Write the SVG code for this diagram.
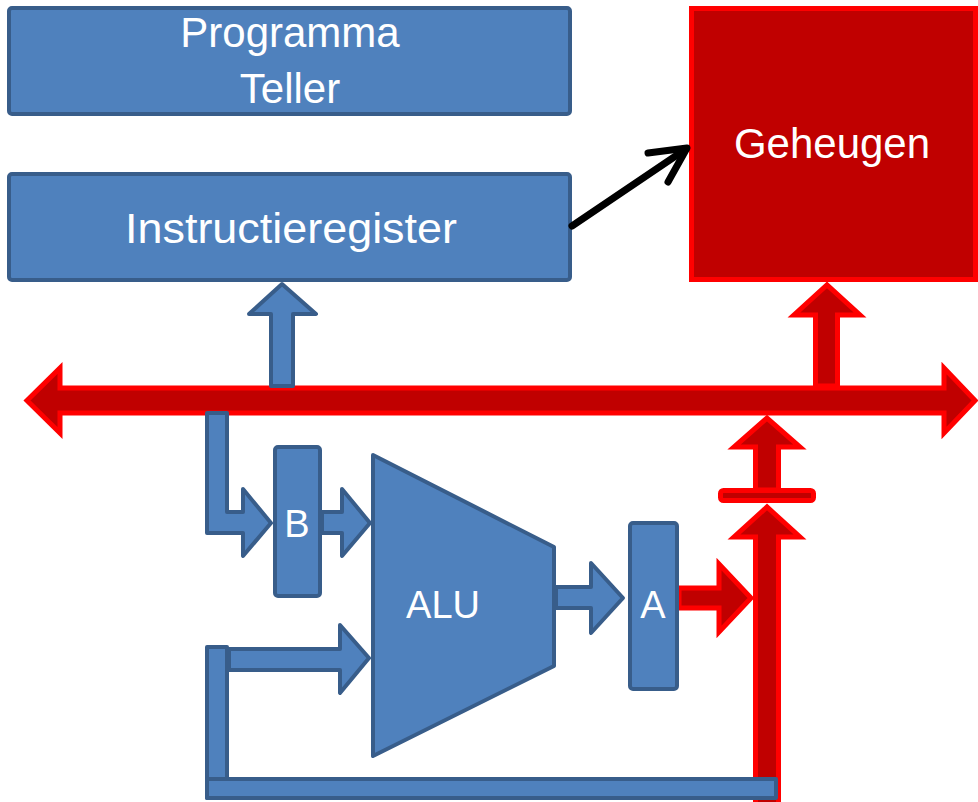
<svg xmlns="http://www.w3.org/2000/svg" width="978" height="802" viewBox="0 0 978 802">
<style>
.blue{fill:#4F81BD;stroke:#385D8A;stroke-width:4;stroke-linejoin:round}
.red{fill:#C00000;stroke:#FF0000;stroke-width:5;stroke-linejoin:miter}
.lbl{font-family:"Liberation Sans",Arial,sans-serif;fill:#FFFFFF;text-anchor:middle}
</style>
<rect width="978" height="802" fill="#FFFFFF"/>
<g id="programma-teller">
<rect class="blue" x="9" y="8" width="561" height="106" rx="3"/>
<text class="lbl" x="290" y="47" font-size="42">Programma</text>
<text class="lbl" x="290" y="103" font-size="42">Teller</text>
</g>
<g id="instructieregister">
<rect class="blue" x="9" y="174" width="561" height="106" rx="3"/>
<text class="lbl" x="291" y="243" font-size="42" textLength="332" lengthAdjust="spacingAndGlyphs">Instructieregister</text>
</g>
<g id="geheugen">
<rect class="red" x="691.5" y="8.5" width="284" height="271"/>
<text class="lbl" x="832" y="158" font-size="42">Geheugen</text>
</g>
<g id="connectors">
<path class="red" d="M27,400.5 L60,368 L60,388 L944,388 L944,368 L975,400.5 L944,433 L944,413 L60,413 L60,433 Z"/>
<path class="blue" d="M271,386 L271,314 L249,314 L282,284 L316,314 L293,314 L293,386 Z"/>
<path class="red" d="M815.5,386 L815.5,315 L794,315 L827,285 L860,315 L837.5,315 L837.5,386 Z"/>
<path class="red" d="M755.5,490 L755.5,447 L734,447 L767,418 L800,447 L778.5,447 L778.5,490 Z"/>
<rect class="red" x="720.5" y="490.5" width="93" height="10" rx="3"/>
<path class="red" d="M755.5,810 L755.5,537 L734,537 L767,507 L800,537 L778.5,537 L778.5,810 Z"/>
<path class="blue" d="M207,413 L227,413 L227,512 L243,512 L243,489 L271,523 L243,556 L243,533 L207,533 Z"/>
<path class="blue" d="M322,512 L342,512 L342,489 L370,523 L342,556 L342,533 L322,533 Z"/>
<path class="blue" d="M229,649 L340,649 L340,625 L369,658 L340,693 L340,670 L229,670 Z"/>
<rect class="blue" x="207" y="647" width="20" height="151"/>
<rect class="blue" x="207" y="779" width="569" height="19"/>
<path class="blue" d="M556,587 L591,587 L591,563 L623,598 L591,633 L591,608 L556,608 Z"/>
<path class="red" d="M679,588 L719,588 L719,564 L751,598 L719,632 L719,608 L679,608 Z"/>
<g fill="none" stroke="#000000" stroke-width="7" stroke-linecap="round" stroke-linejoin="round">
<line x1="572" y1="226" x2="686" y2="149"/>
<polyline points="648,153 687,148 668,182"/>
</g>
</g>
<g id="b">
<rect class="blue" x="275" y="447" width="45" height="149" rx="3"/>
<text class="lbl" x="297" y="537" font-size="38">B</text>
</g>
<g id="alu">
<path class="blue" d="M373,455 L554,547 L554,666 L373,756 Z"/>
<text class="lbl" x="443" y="618" font-size="38">ALU</text>
</g>
<g id="a">
<rect class="blue" x="630" y="523" width="47" height="166" rx="3"/>
<text class="lbl" x="653" y="618" font-size="38">A</text>
</g>
</svg>
